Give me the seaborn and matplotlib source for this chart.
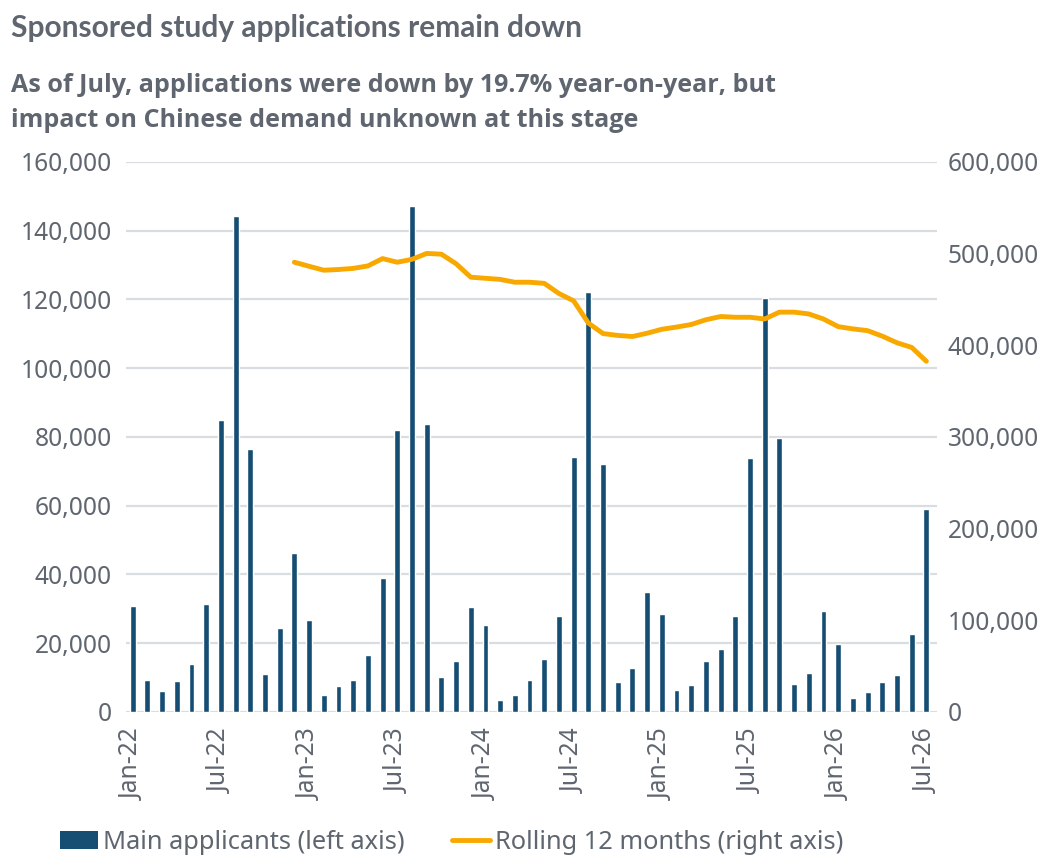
import numpy as np
import pandas as pd
import seaborn as sns
import matplotlib.pyplot as plt
from matplotlib.patches import Patch
from matplotlib.lines import Line2D

# Monthly main applicants, Jan-22 .. Jul-26
months = pd.date_range("2022-01-01", "2026-07-01", freq="MS").strftime("%b-%y").tolist()
applicants = [
    30900, 9300, 6100, 9000, 14000, 31400, 84800, 144200, 76600, 11100, 24500, 46100,
    26800, 5000, 7600, 9300, 16600, 38800, 81900, 147100, 83700, 10200, 14800, 30600,
    25300, 3500, 4800, 9300, 15500, 28000, 74200, 122100, 72200, 8800, 12800, 34900,
    28600, 6500, 7800, 14800, 18300, 28000, 73700, 120300, 79800, 8200, 11300, 29400,
    19800, 4100, 5800, 8800, 10800, 22800, 59100,
]
# Rolling 12-month total (starts Dec-22)
rolling = [np.nan] * 11 + [
    490400, 486000, 481700, 482500, 483700, 486400, 494400, 490400, 493600, 500000,
    499200, 488800, 474100, 472900, 471700, 468600, 468600, 467400, 456300, 448300,
    424100, 412600, 410600, 409400, 413000, 417300, 419700, 422500, 427700, 431200,
    430400, 430400, 428500, 436000, 436000, 434000, 428500, 420200, 417700, 415800,
    409800, 402600, 397500, 382400,
]

df = pd.DataFrame({"month": months, "applicants": applicants, "rolling": rolling})
df["pos"] = np.arange(len(df))

bar_color = "#164e73"
line_color = "#f9a800"
text_color = "#5f6670"
grid_color = "#d9dde1"

sns.set_style("white")
plt.rcParams["font.family"] = ["Noto Sans", "DejaVu Sans"]

fig = plt.figure(figsize=(10.56, 8.65), dpi=100)
ax = fig.add_axes([0.119, 0.177, 0.768, 0.636])

sns.barplot(data=df, x="pos", y="applicants", color=bar_color, width=0.4,
            saturation=1, ax=ax, zorder=3)
ax.set_ylim(0, 160000)
ax.set_xlim(-0.48, 54.7)
ax.set_yticks(np.arange(0, 160001, 20000))
ax.set_yticklabels([f"{v:,}" for v in range(0, 160001, 20000)])
ax.yaxis.grid(True, color=grid_color, linewidth=1.6, zorder=0)
ax.set_axisbelow(True)
tick_pos = list(range(0, 55, 6))
ax.set_xticks(tick_pos)
ax.set_xticklabels([months[i] for i in tick_pos], rotation=90)
ax.set_xlabel("")
ax.set_ylabel("")
for s in ax.spines.values():
    s.set_visible(False)
ax.tick_params(axis="both", length=0, labelsize=17.7, colors=text_color)
ax.tick_params(axis="x", pad=12)
ax.tick_params(axis="y", pad=10)

ax2 = ax.twinx()
sns.lineplot(data=df, x="pos", y="rolling", color=line_color, linewidth=3.5, ax=ax2)
ax2.set_ylim(0, 600000)
ax2.set_yticks(np.arange(0, 600001, 100000))
ax2.set_yticklabels([f"{v:,}" for v in range(0, 600001, 100000)])
ax2.set_ylabel("")
for s in ax2.spines.values():
    s.set_visible(False)
ax2.tick_params(axis="y", length=0, labelsize=17.7, colors=text_color, pad=8)

fig.text(0.01, 0.968, "Sponsored study applications remain down", fontsize=21.5,
         fontweight="bold", color=text_color, family=["Lato", "DejaVu Sans"], va="center")
fig.text(0.01, 0.881, "As of July, applications were down by 19.7% year-on-year, but\n"
         "impact on Chinese demand unknown at this stage", fontsize=18.1,
         fontweight="bold", color=text_color, family=["Open Sans", "DejaVu Sans"],
         va="center", linespacing=1.55)

handles = [Patch(facecolor=bar_color, edgecolor="none"),
           Line2D([0], [0], color=line_color, linewidth=3.5)]
fig.legend(handles, ["Main applicants (left axis)", "Rolling 12 months (right axis)"],
           loc="center left", bbox_to_anchor=(0.035, 0.026), ncol=2, frameon=False,
           fontsize=18.3, labelcolor=text_color, handlelength=1.5, handletextpad=0.2,
           columnspacing=1.85)

fig.savefig("out.png", dpi=100)
